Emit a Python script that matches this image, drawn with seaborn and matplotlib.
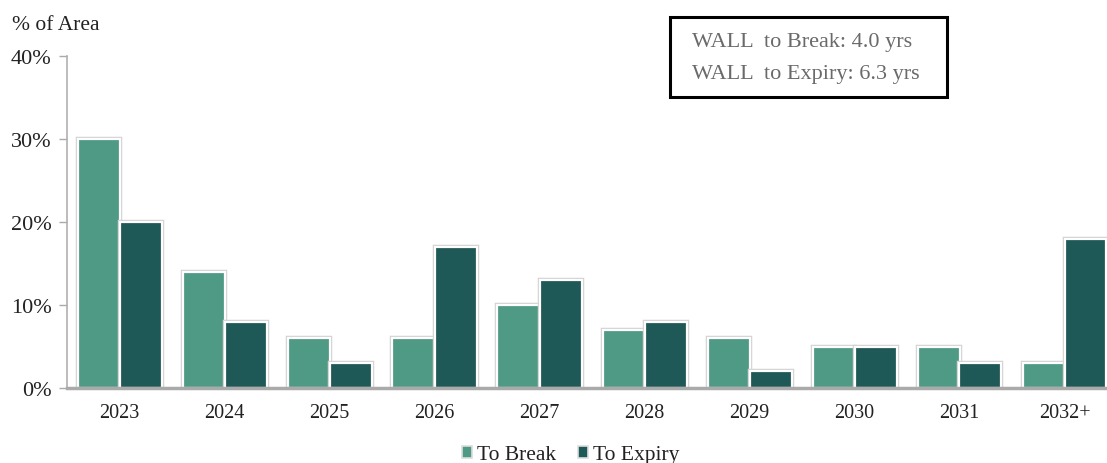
import matplotlib
matplotlib.use("Agg")
import matplotlib.pyplot as plt
import matplotlib.patheffects as pe
import seaborn as sns
import pandas as pd

years = ["2023", "2024", "2025", "2026", "2027", "2028", "2029", "2030", "2031", "2032+"]
to_break = [30, 14, 6, 6, 10, 7, 6, 5, 5, 3]
to_expiry = [20, 8, 3, 17, 13, 8, 2, 5, 3, 18]
series_names = ["To Break", "To Expiry"]
colors = ["#4f9a85", "#1f5957"]
y_ticks = [0, 10, 20, 30, 40]
wall_lines = ["WALL  to Break: 4.0 yrs", "WALL  to Expiry: 6.3 yrs"]

df = pd.DataFrame({
    "year": years * 2,
    "value": to_break + to_expiry,
    "series": [series_names[0]] * len(years) + [series_names[1]] * len(years),
})

sns.set_style("white")
plt.rcParams["font.family"] = ["Liberation Serif", "DejaVu Serif"]

fig = plt.figure(figsize=(11.07, 4.64), dpi=100)
ax = fig.add_axes([67 / 1107, 75 / 464, 1050 / 1107, 332 / 464])

sns.barplot(data=df, x="year", y="value", hue="series", order=years,
            hue_order=series_names, palette=colors, width=0.8, gap=0.0,
            edgecolor="white", linewidth=1.6, saturation=1, ax=ax, legend=False)

for p in ax.patches:
    p.set_path_effects([pe.Stroke(linewidth=3.2, foreground="#d2d2d2"), pe.Normal()])

ax.set_xlim(-0.5, 9.5)
ax.set_ylim(0, 40)
ax.set_yticks(y_ticks)
ax.set_yticklabels([f"{t}%" for t in y_ticks], fontsize=16, color="#222222")
ax.tick_params(axis="x", labelsize=14.5, colors="#222222", length=0, pad=11)
ax.tick_params(axis="y", left=True, length=6, width=1, color="#aaaaaa", pad=5)
ax.set_xlabel("")
ax.set_ylabel("")

for s in ["top", "right"]:
    ax.spines[s].set_visible(False)
ax.spines["left"].set_color("#b0b0b0")
ax.spines["left"].set_linewidth(1.2)
ax.spines["bottom"].set_color("#aaaaaa")
ax.spines["bottom"].set_linewidth(2.5)

fig.text(12 / 1107, 1 - 26 / 464, "% of Area", fontsize=15.5, color="#222222", va="center")

# WALL summary box
for line, ypix in zip(wall_lines, [42, 74]):
    fig.text(692 / 1107, 1 - ypix / 464, line, fontsize=16, color="#6a6a6a", va="center")
box = plt.Rectangle((670 / 1107, 1 - 98 / 464), 277 / 1107, 80 / 464, transform=fig.transFigure,
                    facecolor="none", edgecolor="black", linewidth=2.2)
fig.add_artist(box)

handles = [plt.Rectangle((0, 0), 1, 1, facecolor=c, edgecolor="#dddddd", linewidth=1.2) for c in colors]
fig.legend(handles, series_names, loc="center", bbox_to_anchor=(571 / 1107, 1 - 456 / 464),
           ncol=2, frameon=False, fontsize=15.5, handlelength=0.45, handleheight=0.45,
           handletextpad=0.25, columnspacing=1.0, labelcolor="#222222")

fig.savefig("out.png", dpi=100)
